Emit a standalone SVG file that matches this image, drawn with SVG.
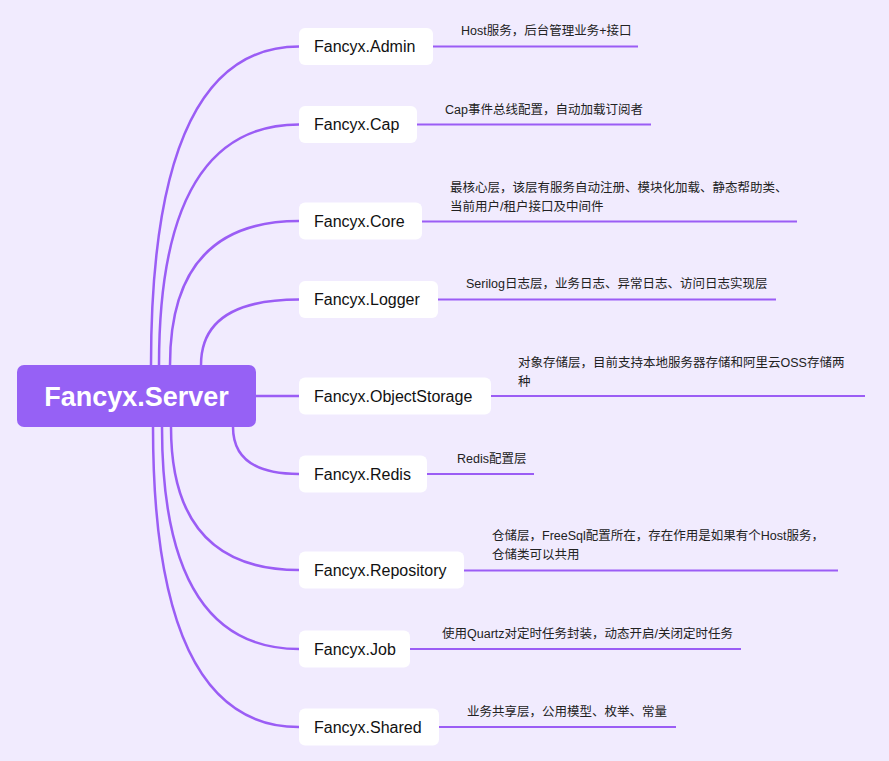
<svg xmlns="http://www.w3.org/2000/svg" width="889" height="761" viewBox="0 0 889 761">
<style>
.bg{fill:#F1EBFE}
.conn{fill:none;stroke:#9B5DF5;stroke-width:2.5;stroke-linecap:round}
.ul{fill:none;stroke:#9B5DF5;stroke-width:2}
.node{fill:#FFFFFF}
.root{fill:#9661F5}
.nt{font-family:"Liberation Sans",Arial,sans-serif;font-size:16px;fill:#111111}
.rt{font-family:"Liberation Sans",Arial,sans-serif;font-size:27px;font-weight:bold;fill:#FFFFFF}
.lt{font-family:"Liberation Sans","Noto Sans CJK SC",sans-serif;font-size:12.5px;fill:#222222}
</style>
<rect class="bg" x="0" y="0" width="889" height="761"/>
<g id="connectors">
<path class="conn" d="M151,365 Q151,46.5 299,46.5"/>
<path class="conn" d="M159,365 Q159,124.5 299,124.5"/>
<path class="conn" d="M170,365 Q170,221 299,221"/>
<path class="conn" d="M201,365 Q201,299.5 299,299.5"/>
<path class="conn" d="M256,396 L299,396"/>
<path class="conn" d="M233,427 Q233,474 299,474"/>
<path class="conn" d="M171,427 Q171,570 299,570"/>
<path class="conn" d="M162,427 Q162,649 299,649"/>
<path class="conn" d="M153,427 Q153,727 299,727"/>
<path class="ul" d="M433,46.5 L638,46.5"/>
<path class="ul" d="M417,124.5 L651,124.5"/>
<path class="ul" d="M422,221.5 L797,221.5"/>
<path class="ul" d="M438,299.5 L776,299.5"/>
<path class="ul" d="M491,396 L865,396"/>
<path class="ul" d="M427,474 L534,474"/>
<path class="ul" d="M464,570.5 L838,570.5"/>
<path class="ul" d="M410,649 L741,649"/>
<path class="ul" d="M439,727 L676,727"/>
</g>
<g id="root">
<rect class="root" x="17" y="365" width="239" height="62" rx="7"/>
<text class="rt" x="136.5" y="405.5" text-anchor="middle">Fancyx.Server</text>
</g>
<g id="admin">
<rect class="node" x="299" y="28" width="134" height="37" rx="6"/>
<text class="nt" x="314" y="52">Fancyx.Admin</text>
<text class="lt" x="461" y="35">Host服务，后台管理业务+接口</text>
</g>
<g id="cap">
<rect class="node" x="299" y="106" width="118" height="37" rx="6"/>
<text class="nt" x="314" y="130">Fancyx.Cap</text>
<text class="lt" x="445" y="113.5">Cap事件总线配置，自动加载订阅者</text>
</g>
<g id="core">
<rect class="node" x="299" y="202.5" width="123" height="37" rx="6"/>
<text class="nt" x="314" y="226.5">Fancyx.Core</text>
<text class="lt" x="450" y="192">最核心层，该层有服务自动注册、模块化加载、静态帮助类、</text>
<text class="lt" x="450" y="211">当前用户/租户接口及中间件</text>
</g>
<g id="logger">
<rect class="node" x="299" y="281" width="139" height="37" rx="6"/>
<text class="nt" x="314" y="305">Fancyx.Logger</text>
<text class="lt" x="466" y="288">Serilog日志层，业务日志、异常日志、访问日志实现层</text>
</g>
<g id="objectstorage">
<rect class="node" x="299" y="377.5" width="192" height="37" rx="6"/>
<text class="nt" x="314" y="401.5">Fancyx.ObjectStorage</text>
<text class="lt" x="518" y="367">对象存储层，目前支持本地服务器存储和阿里云OSS存储两</text>
<text class="lt" x="518" y="386">种</text>
</g>
<g id="redis">
<rect class="node" x="299" y="455.5" width="128" height="37" rx="6"/>
<text class="nt" x="314" y="479.5">Fancyx.Redis</text>
<text class="lt" x="457" y="463">Redis配置层</text>
</g>
<g id="repository">
<rect class="node" x="299" y="551.5" width="165" height="37" rx="6"/>
<text class="nt" x="314" y="575.5">Fancyx.Repository</text>
<text class="lt" x="492" y="540">仓储层，FreeSql配置所在，存在作用是如果有个Host服务，</text>
<text class="lt" x="492" y="559">仓储类可以共用</text>
</g>
<g id="job">
<rect class="node" x="299" y="630.5" width="111" height="37" rx="6"/>
<text class="nt" x="314" y="654.5">Fancyx.Job</text>
<text class="lt" x="442" y="638">使用Quartz对定时任务封装，动态开启/关闭定时任务</text>
</g>
<g id="shared">
<rect class="node" x="299" y="708.5" width="140" height="37" rx="6"/>
<text class="nt" x="314" y="732.5">Fancyx.Shared</text>
<text class="lt" x="467" y="716">业务共享层，公用模型、枚举、常量</text>
</g>
</svg>
